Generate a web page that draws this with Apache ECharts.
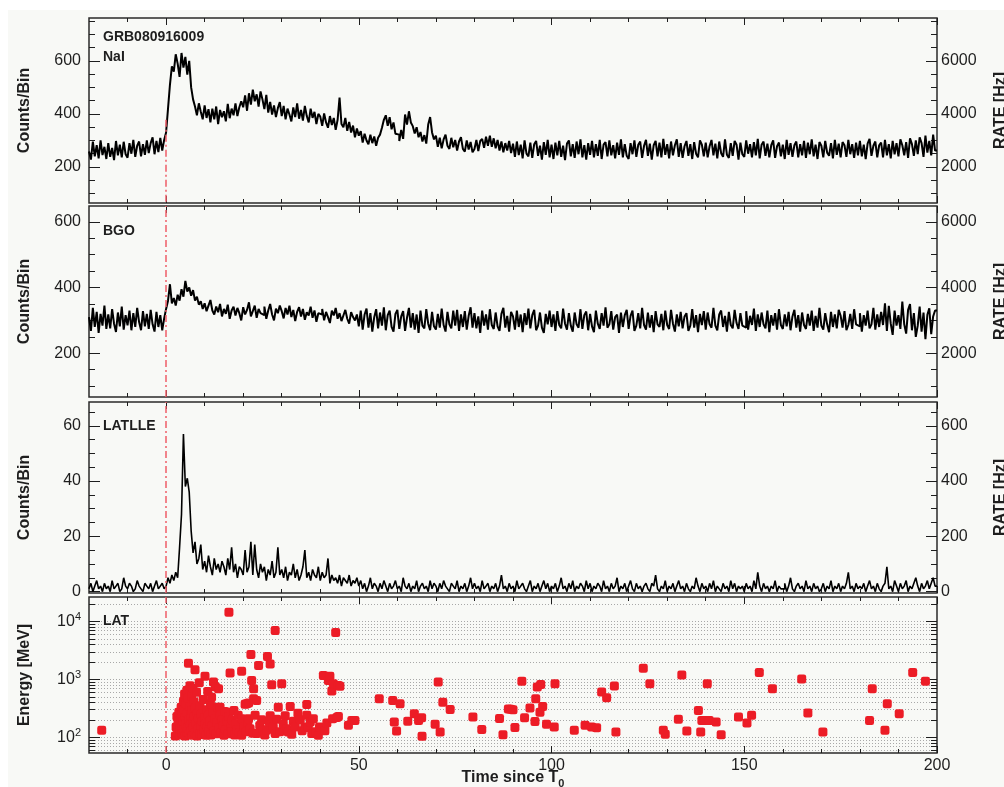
<!DOCTYPE html>
<html>
<head>
<meta charset="utf-8">
<title>GRB080916009 light curves</title>
<script src="https://cdn.jsdelivr.net/npm/echarts@6/dist/echarts.min.js"></script>
<style>
  html, body { margin: 0; padding: 0; background: #ffffff; overflow: hidden; }
  #chart { width: 1004px; height: 787px; }
</style>
</head>
<body>
<div id="chart"></div>
<script>
// ---- binned light curves: counts per bin, 0.5 s bins from t = -20 s ----
const TIME_START = -20;
const BIN_WIDTH = 0.5;

const naiCounts = [
  258, 228, 296, 240, 282, 232, 300, 245, 276, 230,
  290, 238, 272, 226, 298, 244, 284, 236, 295, 248,
  235, 290, 250, 302, 238, 280, 296, 240, 286, 246,
  300, 252, 290, 312, 248, 298, 256, 310, 262, 302,
  330, 420, 510, 580, 560, 625, 590, 540, 630, 575,
  615, 548, 600, 500, 455, 428, 395, 440, 408, 380,
  432, 385, 418, 368, 420, 380, 428, 362, 415, 388,
  410, 372, 438, 384, 420, 395, 440, 392, 425, 448,
  425, 470, 412, 478, 435, 492, 448, 474, 428, 485,
  455, 418, 472, 405, 445, 398, 432, 388, 422, 445,
  392, 430, 380, 420, 398, 372, 425, 388, 440, 382,
  415, 375, 430, 392, 368, 420, 385, 408, 362, 400,
  390, 355, 402, 368, 348, 392, 358, 385, 340, 378,
  462, 362, 350, 385, 336, 370, 330, 356, 312, 345,
  318, 335, 292, 325, 300, 285, 322, 290, 315, 280,
  310, 322, 348, 378, 395, 355, 388, 342, 368, 325,
  322, 298, 340, 306, 398, 360, 410, 368, 354, 326,
  350, 312, 332, 296, 320, 288, 360, 388, 330, 304,
  318, 276, 310, 270, 304, 322, 280, 268, 310, 274,
  302, 262, 296, 312, 268, 258, 300, 266, 294, 255,
  268, 302, 260, 298, 306, 272, 314, 280, 318, 276,
  308, 270, 302, 262, 296, 255, 290, 262, 298, 252,
  288, 238, 296, 245, 284, 232, 300, 250, 240, 292,
  234, 286, 298, 242, 280, 228, 294, 246, 302, 236,
  284, 230, 292, 244, 298, 238, 280, 226, 288, 300,
  240, 286, 234, 296, 248, 304, 236, 282, 228, 290,
  246, 298, 236, 286, 242, 302, 230, 284, 294, 240,
  300, 244, 282, 232, 292, 246, 304, 236, 286, 242,
  230, 290, 248, 300, 238, 284, 296, 234, 280, 302,
  242, 288, 228, 282, 298, 240, 292, 236, 306, 246,
  286, 232, 296, 244, 282, 304, 238, 290, 234, 278,
  298, 242, 286, 230, 294, 250, 236, 300, 284, 240,
  292, 236, 278, 302, 244, 288, 232, 296, 252, 238,
  304, 246, 234, 290, 242, 298, 284, 228, 292, 248,
  238, 300, 250, 286, 236, 294, 244, 306, 232, 284,
  296, 242, 288, 236, 282, 300, 234, 278, 292, 240,
  284, 230, 302, 246, 290, 238, 282, 296, 236, 286,
  244, 298, 234, 292, 248, 304, 240, 284, 230, 294,
  280, 236, 298, 254, 242, 290, 232, 302, 246, 288,
  236, 294, 282, 238, 302, 248, 286, 234, 292, 244,
  298, 240, 284, 230, 288, 306, 242, 280, 296, 236,
  282, 292, 236, 302, 244, 286, 232, 298, 248, 290,
  240, 304, 282, 244, 294, 234, 308, 286, 242, 300,
  248, 312, 290, 238, 318, 254, 298, 244, 322, 262
];

const bgoCounts = [
  310, 268, 338, 280, 326, 262, 320, 284, 345, 274,
  318, 276, 334, 290, 265, 324, 282, 342, 272, 316,
  285, 330, 270, 322, 280, 338, 295, 270, 328, 282,
  320, 274, 332, 288, 266, 326, 280, 316, 270, 306,
  335, 360, 410, 352, 368, 345, 378, 360, 395, 372,
  420, 388, 400, 375, 392, 360, 372, 348, 358, 335,
  352, 328, 345, 362, 330, 318, 342, 325, 350, 312,
  335, 320, 348, 305, 330, 342, 315, 338, 322, 300,
  340, 318, 332, 355, 312, 328, 345, 308, 335, 322,
  316, 342, 305, 330, 350, 318, 300, 336, 322, 345,
  328, 306, 338, 318, 345, 310, 332, 298, 326, 340,
  312, 335, 302, 325, 315, 342, 308, 330, 296, 322,
  318, 335, 300, 326, 310, 292, 330, 315, 338, 305,
  322, 298, 315, 332, 305, 290, 325, 310, 300, 318,
  282, 330, 272, 318, 336, 278, 322, 266, 310, 334,
  276, 324, 284, 340, 270, 316, 330, 280, 266, 320,
  332, 274, 312, 328, 268, 308, 338, 278, 322, 272,
  318, 262, 330, 284, 276, 334, 290, 270, 326, 282,
  272, 320, 278, 336, 286, 266, 326, 288, 276, 330,
  284, 332, 268, 318, 280, 328, 272, 314, 340, 278,
  322, 276, 312, 262, 330, 284, 318, 272, 334, 286,
  274, 324, 282, 268, 320, 338, 278, 314, 266, 326,
  312, 272, 330, 280, 318, 264, 322, 286, 336, 276,
  316, 332, 270, 284, 324, 278, 262, 320, 288, 330,
  280, 318, 268, 328, 286, 276, 336, 290, 272, 322,
  284, 266, 324, 288, 278, 334, 274, 316, 327, 270,
  320, 282, 264, 330, 290, 274, 322, 284, 340, 278,
  288, 328, 272, 310, 318, 262, 324, 280, 316, 332,
  274, 314, 330, 268, 284, 322, 276, 338, 286, 272,
  324, 278, 316, 264, 328, 288, 280, 320, 270, 330,
  286, 274, 332, 290, 266, 318, 282, 326, 276, 312,
  322, 268, 284, 334, 278, 316, 264, 320, 286, 328,
  272, 324, 288, 278, 338, 284, 270, 318, 330, 280,
  314, 266, 326, 286, 276, 332, 292, 274, 322, 284,
  278, 328, 272, 314, 286, 336, 268, 318, 280, 324,
  288, 276, 330, 264, 316, 284, 322, 272, 334, 286,
  274, 318, 282, 326, 270, 312, 332, 278, 316, 266,
  324, 286, 274, 320, 284, 330, 268, 314, 278, 338,
  284, 272, 322, 288, 264, 326, 280, 318, 276, 332,
  314, 278, 328, 270, 286, 320, 274, 334, 288, 282,
  322, 266, 316, 284, 330, 276, 288, 338, 272, 318,
  280, 326, 286, 352, 268, 344, 290, 256, 330, 284,
  316, 274, 357, 288, 260, 332, 350, 270, 322, 250,
  284, 342, 266, 324, 243, 317, 337, 258, 312, 330
];

const lleCounts = [
  1, 3, 0, 2, 4, 1, 2, 0, 3, 1,
  2, 0, 4, 1, 2, 3, 0, 1, 5, 2,
  1, 3, 2, 0, 1, 4, 2, 1, 0, 3,
  2, 1, 3, 0, 2, 4, 1, 2, 3, 1,
  2, 5, 3, 6, 4, 7, 5, 16, 28, 57,
  38, 41, 36, 22, 14, 18, 10, 12, 17, 8,
  11, 7, 13, 9, 6, 12, 8, 10, 7, 11,
  9, 6, 12, 8, 16, 7, 10, 5, 9, 8,
  6, 15, 7, 9, 18, 6, 17, 8, 5, 10,
  7, 9, 4, 8, 6, 11, 5, 7, 16, 6,
  8, 5, 9, 4, 7, 6, 10, 5, 8, 4,
  6, 9, 15, 5, 7, 4, 8, 6, 5, 9,
  4, 7, 5, 6, 12, 3, 6, 4, 5, 3,
  6, 2, 5, 4, 3, 6, 2, 4, 3, 5,
  2, 4, 1, 3, 0, 2, 5, 1, 3, 2,
  0, 3, 1, 4, 2, 0, 3, 1, 2, 4,
  1, 2, 0, 5, 2, 1, 3, 0, 2, 1,
  4, 0, 2, 3, 1, 2, 0, 4, 1, 3,
  2, 0, 3, 1, 4, 2, 1, 0, 3, 2,
  1, 4, 0, 2, 1, 3, 0, 2, 5, 1,
  3, 1, 2, 0, 4, 1, 2, 3, 0, 2,
  1, 3, 0, 2, 6, 1, 2, 0, 3, 1,
  2, 0, 4, 1, 2, 3, 1, 0, 2, 4,
  0, 2, 1, 3, 0, 2, 4, 1, 3, 0,
  2, 1, 3, 0, 2, 5, 1, 2, 0, 3,
  1, 4, 0, 2, 1, 3, 2, 0, 4, 1,
  3, 0, 2, 1, 3, 2, 0, 4, 1, 2,
  0, 3, 1, 2, 5, 0, 2, 1, 3, 0,
  2, 4, 1, 0, 3, 1, 2, 0, 2, 3,
  1, 0, 3, 2, 6, 1, 0, 2, 1, 4,
  0, 2, 1, 3, 0, 2, 4, 1, 2, 0,
  3, 1, 0, 2, 1, 5, 2, 0, 3, 1,
  2, 0, 3, 1, 4, 0, 2, 1, 0, 3,
  1, 2, 0, 4, 1, 3, 0, 2, 1, 2,
  0, 3, 1, 2, 0, 4, 1, 7, 2, 0,
  3, 1, 2, 0, 2, 1, 4, 0, 2, 1,
  1, 3, 0, 2, 5, 1, 0, 2, 3, 1,
  2, 0, 4, 1, 2, 0, 3, 1, 2, 0,
  1, 3, 0, 2, 1, 4, 0, 2, 1, 3,
  0, 2, 1, 3, 7, 1, 2, 0, 3, 1,
  2, 1, 3, 0, 2, 4, 1, 2, 0, 3,
  1, 0, 2, 3, 9, 1, 2, 0, 4, 2,
  0, 3, 1, 2, 4, 0, 2, 1, 3, 5,
  2, 0, 3, 1, 2, 4, 1, 3, 5, 2
];

// ---- LAT photons: [time since T0 (s), energy (MeV)] ----
const latPhotons = [
  [-16.7, 132],
  [2.4, 105], [2.6, 150], [2.8, 230], [3.0, 120], [3.1, 185], [3.3, 270], [3.5, 110], [3.6, 140], [3.8, 210], [3.9, 330],
  [4.0, 160], [4.1, 250], [4.2, 115], [4.4, 190], [4.5, 420], [4.6, 135], [4.7, 300], [4.8, 560], [4.9, 105], [5.0, 220],
  [5.1, 170], [5.2, 380], [5.3, 125], [5.4, 650], [5.5, 260], [5.6, 145], [5.7, 480], [5.8, 1900], [5.9, 200], [6.0, 115],
  [6.1, 340], [6.2, 780], [6.3, 165], [6.4, 240], [6.5, 130], [6.6, 520], [6.7, 290], [6.8, 108], [6.9, 190], [7.0, 700],
  [7.1, 150], [7.2, 410], [7.3, 230], [7.5, 1470], [7.5, 120], [7.6, 320], [7.8, 175], [7.9, 600], [8.0, 105], [8.1, 260],
  [8.3, 140], [8.4, 210], [8.6, 880], [8.7, 118], [8.8, 350], [9.0, 160], [9.1, 250], [9.3, 112], [9.4, 190], [9.6, 450],
  [9.8, 135], [10.0, 220], [10.1, 1140], [10.2, 170], [10.4, 108], [10.5, 300], [10.7, 150], [10.8, 620], [11.0, 240], [11.1, 125],
  [11.3, 190], [11.5, 380], [11.6, 110], [11.8, 495], [12.0, 160], [12.2, 270], [12.3, 900], [12.5, 130], [12.7, 210], [12.8, 750],
  [13.0, 115], [13.2, 180], [13.4, 330], [13.6, 690], [13.8, 145], [14.0, 330], [14.1, 240], [14.3, 120], [14.5, 200], [14.8, 160],
  [15.0, 108], [15.2, 280], [15.4, 135], [15.7, 270], [15.9, 190], [16.1, 115], [16.3, 14500], [16.3, 230], [16.6, 1290], [16.8, 150],
  [17.0, 125], [17.2, 200], [17.6, 290], [17.8, 110], [18.1, 170], [18.4, 135], [18.7, 240], [19.0, 120], [19.6, 1390], [19.6, 108],
  [19.6, 210], [20.2, 150], [20.5, 371], [20.8, 125], [20.9, 380], [21.2, 180], [21.4, 390], [21.4, 209], [21.8, 141], [22.0, 2700],
  [22.2, 960], [22.5, 118], [22.7, 690], [22.7, 465], [23.1, 240], [23.5, 435], [23.5, 116], [24.0, 1740], [24.3, 160], [24.8, 202],
  [25.2, 135], [25.6, 110], [26.1, 132], [26.3, 2500], [26.7, 185], [27.0, 1860], [27.0, 237], [27.4, 810], [27.8, 150], [28.3, 7000],
  [28.3, 116], [28.7, 205], [29.1, 332], [29.5, 125], [30.0, 840], [30.4, 170], [30.9, 237], [31.3, 140], [31.7, 123], [32.2, 342],
  [32.6, 113], [33.0, 190], [33.5, 151], [34.2, 260], [34.8, 202], [35.3, 130], [36.0, 151], [36.5, 370], [36.5, 240], [36.9, 147],
  [37.4, 183], [37.8, 116], [38.2, 210], [38.8, 125], [39.5, 108], [39.8, 150], [40.8, 1170], [41.2, 130], [41.7, 177], [42.1, 960],
  [42.5, 1140], [43.0, 630], [43.2, 209], [43.4, 840], [44.0, 6500], [44.3, 219], [44.7, 790], [44.7, 230], [45.1, 760], [47.3, 161],
  [48.2, 196], [49.0, 196],
  [55.3, 465], [58.8, 435], [60.7, 380], [59.2, 183], [59.8, 128], [62.7, 190], [64.4, 255], [65.5, 196], [66.3, 218], [66.4, 104],
  [69.8, 168], [71.1, 123], [70.6, 900], [71.8, 405], [73.7, 303], [79.6, 224], [81.9, 136], [86.5, 212], [87.4, 111], [88.8, 310],
  [89.4, 305], [90.0, 300], [90.5, 147], [92.3, 930], [93.0, 218], [94.4, 320], [95.7, 188], [95.9, 465], [96.3, 740], [97.2, 820],
  [97.0, 270], [97.7, 342], [98.7, 168], [100.7, 151], [100.9, 840], [105.9, 132], [108.7, 161], [110.4, 151], [111.7, 146], [113.0, 605],
  [114.3, 483], [116.3, 770], [116.7, 123], [123.8, 1570], [125.5, 840], [129.0, 132], [129.5, 113], [132.9, 205], [133.8, 1200], [135.1, 128],
  [138.1, 290], [138.7, 123], [139.0, 196], [139.8, 196], [140.9, 196], [140.4, 840], [142.7, 183], [144.0, 111], [148.5, 224], [150.7, 177],
  [151.9, 240], [153.9, 1320], [157.3, 690], [164.9, 1020], [166.5, 263], [170.4, 123], [182.5, 196], [183.2, 690], [186.5, 132], [187.1, 380],
  [190.2, 255], [193.7, 1320], [197.0, 930]
];

// ---- axis ticks ----
const TIME_MIN = -20, TIME_MAX = 200;
const timeMajorTicks = [0, 50, 100, 150, 200];
const timeMinorTicks = [-10, 10, 20, 30, 40, 60, 70, 80, 90, 110, 120, 130, 140, 160, 170, 180, 190];
const gbmMajorTicks = [200, 400, 600];
const gbmMinorTicks = [100, 150, 250, 300, 350, 450, 500, 550, 650, 700, 750];
const lleMajorTicks = [0, 20, 40, 60];
const lleMinorTicks = [5, 10, 15, 25, 30, 35, 45, 50, 55, 65];
const energyMajorTicks = [100, 1000, 10000];
const energyMinorTicks = [60, 70, 80, 90, 200, 300, 400, 500, 600, 700, 800, 900,
  2000, 3000, 4000, 5000, 6000, 7000, 8000, 9000, 20000];
const RATE_PER_COUNT = 10; // counts per bin -> Hz

// ---- layout ----
const FONT = 'Liberation Sans, Arial, Helvetica, sans-serif';
const INK = '#1e1e1e';
const GRID_LEFT = 89, GRID_RIGHT = 67;
const panels = [
  { top: 18,  height: 185, min: 64,   max: 762,   type: 'value', major: gbmMajorTicks, minor: gbmMinorTicks, yName: 'Counts/Bin', rName: 'RATE [Hz]' },
  { top: 206, height: 191, min: 67,   max: 648,   type: 'value', major: gbmMajorTicks, minor: gbmMinorTicks, yName: 'Counts/Bin', rName: 'RATE [Hz]' },
  { top: 402, height: 191, min: -0.5, max: 68.6,  type: 'value', major: lleMajorTicks, minor: lleMinorTicks, yName: 'Counts/Bin', rName: 'RATE [Hz]' },
  { top: 597, height: 156, min: 53.5, max: 26700, type: 'log',   major: energyMajorTicks, minor: energyMinorTicks, yName: 'Energy [MeV]', rName: '' }
];

function stepData(values) {
  const pts = values.map((v, i) => [TIME_START + i * BIN_WIDTH, v]);
  pts.push([TIME_START + values.length * BIN_WIDTH, values[values.length - 1]]);
  return pts;
}

const tickLine = { color: INK, width: 1 };
const labelStyle = { color: INK, fontSize: 16, fontFamily: FONT };

const grids = [], xAxes = [], yAxes = [];
panels.forEach((p, gi) => {
  grids.push({ left: GRID_LEFT, right: GRID_RIGHT, top: p.top, height: p.height, show: true,
    outerBoundsMode: 'none', containLabel: false,
    borderColor: '#2a2a2a', borderWidth: 1.5, backgroundColor: 'transparent' });

  const isBottom = gi === panels.length - 1;
  const xBase = { type: 'value', gridIndex: gi, min: TIME_MIN, max: TIME_MAX,
    axisLine: { show: false, onZero: false }, splitLine: { show: false } };
  xAxes.push(Object.assign({}, xBase, {
    position: 'bottom',
    axisTick: { show: true, inside: true, length: 7, customValues: timeMajorTicks, lineStyle: tickLine },
    axisLabel: isBottom ? Object.assign({ show: true, margin: 5, customValues: timeMajorTicks }, labelStyle) : { show: false },
    name: isBottom ? 'Time since T{sub|0}' : '',
    nameLocation: 'middle', nameGap: 14, nameMoveOverlap: false,
    nameTextStyle: { color: INK, fontSize: 16, fontWeight: 'bold', fontFamily: FONT, verticalAlign: 'top',
      rich: { sub: { fontSize: 11, fontWeight: 'bold', fontFamily: FONT, color: INK, verticalAlign: 'bottom', lineHeight: 22 } } }
  }));
  xAxes.push(Object.assign({}, xBase, { position: 'bottom',
    axisTick: { show: true, inside: true, length: 4, customValues: timeMinorTicks, lineStyle: tickLine },
    axisLabel: { show: false } }));
  xAxes.push(Object.assign({}, xBase, { position: 'top',
    axisTick: { show: true, inside: true, length: 7, customValues: timeMajorTicks, lineStyle: tickLine },
    axisLabel: { show: false } }));
  xAxes.push(Object.assign({}, xBase, { position: 'top',
    axisTick: { show: true, inside: true, length: 4, customValues: timeMinorTicks, lineStyle: tickLine },
    axisLabel: { show: false } }));

  const isLog = p.type === 'log';
  const yBase = { type: p.type, gridIndex: gi, min: p.min, max: p.max,
    axisLine: { show: false, onZero: false }, splitLine: { show: false } };
  if (isLog) yBase.logBase = 10;
  const gridDots = { show: true, lineStyle: { color: '#a8a8a8', width: 1, type: [1, 2] } };
  const leftLabel = isLog
    ? Object.assign({ show: true, margin: 8, customValues: p.major,
        formatter: v => '10{sup|' + Math.round(Math.log10(v)) + '}',
        rich: { sup: { fontSize: 11, fontFamily: FONT, color: INK, padding: [0, 0, 9, 0] } } }, labelStyle)
    : Object.assign({ show: true, margin: 8, customValues: p.major }, labelStyle);

  yAxes.push(Object.assign({}, yBase, {
    position: 'left',
    axisTick: { show: true, inside: true, length: 11, customValues: p.major, lineStyle: tickLine },
    axisLabel: leftLabel,
    splitLine: isLog ? gridDots : { show: false },
    name: p.yName, nameLocation: 'middle', nameRotate: 90, nameGap: 56,
    nameTextStyle: { color: INK, fontSize: 16, fontWeight: 'bold', fontFamily: FONT }
  }));
  yAxes.push(Object.assign({}, yBase, { position: 'left',
    axisTick: { show: true, inside: true, length: 6, customValues: p.minor, lineStyle: tickLine },
    axisLabel: { show: false },
    splitLine: isLog ? gridDots : { show: false } }));
  yAxes.push(Object.assign({}, yBase, {
    position: 'right',
    axisTick: { show: true, inside: true, length: 11, customValues: p.major, lineStyle: tickLine },
    axisLabel: isLog ? { show: false }
      : Object.assign({ show: true, margin: 4, customValues: p.major, formatter: v => String(Math.round(v * RATE_PER_COUNT)) }, labelStyle),
    name: p.rName, nameLocation: 'middle', nameRotate: 90, nameGap: 56,
    nameTextStyle: { color: INK, fontSize: 16, fontWeight: 'bold', fontFamily: FONT }
  }));
  yAxes.push(Object.assign({}, yBase, { position: 'right',
    axisTick: { show: true, inside: true, length: 6, customValues: p.minor, lineStyle: tickLine },
    axisLabel: { show: false } }));
});

// trigger time marker
const triggerStyle = { color: '#ee5d68', width: 1.5, type: [7, 3, 2, 3] };
function triggerLine(data) {
  return { silent: true, symbol: 'none', label: { show: false }, lineStyle: triggerStyle, data: data, animation: false };
}

const curveStyle = { color: '#000000', width: 2 };
const series = [
  { name: 'NaI', type: 'line', xAxisIndex: 0, yAxisIndex: 0, step: 'end', symbol: 'none',
    data: stepData(naiCounts), lineStyle: curveStyle, z: 3,
    markLine: triggerLine([[{ coord: [0, 378] }, { coord: [0, panels[0].min] }]]) },
  { name: 'BGO', type: 'line', xAxisIndex: 4, yAxisIndex: 4, step: 'end', symbol: 'none',
    data: stepData(bgoCounts), lineStyle: curveStyle, z: 3,
    markLine: triggerLine([{ xAxis: 0 }]) },
  { name: 'LATLLE', type: 'line', xAxisIndex: 8, yAxisIndex: 8, step: 'end', symbol: 'none',
    data: stepData(lleCounts), lineStyle: { color: '#000000', width: 1.6 }, z: 3,
    markLine: triggerLine([{ xAxis: 0 }]) },
  { name: 'LAT', type: 'scatter', xAxisIndex: 12, yAxisIndex: 12,
    data: latPhotons, symbol: 'roundRect', symbolSize: 9,
    itemStyle: { color: '#ec1c26', opacity: 1 }, z: 4,
    markLine: triggerLine([{ xAxis: 0 }]) }
];

function panelText(text, x, y) {
  return { type: 'text', left: x, top: y, z: 10,
    style: { text: text, fill: INK, font: 'bold 14px ' + FONT } };
}

const chart = echarts.init(document.getElementById('chart'), null, { renderer: 'canvas' });
chart.setOption({
  animation: false,
  backgroundColor: '#f8f9f6',
  grid: grids,
  xAxis: xAxes,
  yAxis: yAxes,
  series: series,
  graphic: [
    { type: 'rect', left: 0, top: 0, z: -10, shape: { width: 1004, height: 10 }, style: { fill: '#ffffff' } },
    { type: 'rect', left: 0, top: 0, z: -10, shape: { width: 8, height: 787 }, style: { fill: '#ffffff' } },
    panelText('GRB080916009', 103, 30),
    panelText('NaI', 103, 50),
    panelText('BGO', 103, 224),
    panelText('LATLLE', 103, 419),
    panelText('LAT', 103, 614)
  ]
});
</script>
</body>
</html>
